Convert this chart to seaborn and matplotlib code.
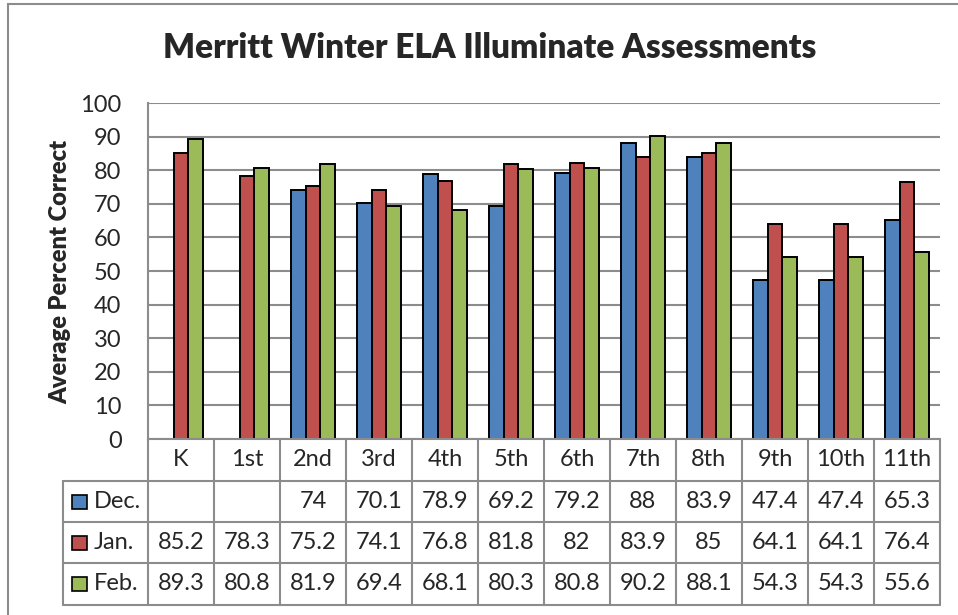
import numpy as np
import pandas as pd
import matplotlib
matplotlib.use("Agg")
import matplotlib.pyplot as plt
from matplotlib.patches import Rectangle
from matplotlib.lines import Line2D
import seaborn as sns

grades = ["K", "1st", "2nd", "3rd", "4th", "5th", "6th", "7th", "8th", "9th", "10th", "11th"]
series_names = ["Dec.", "Jan.", "Feb."]
dec = [np.nan, np.nan, 74, 70.1, 78.9, 69.2, 79.2, 88, 83.9, 47.4, 47.4, 65.3]
jan = [85.2, 78.3, 75.2, 74.1, 76.8, 81.8, 82, 83.9, 85, 64.1, 64.1, 76.4]
feb = [89.3, 80.8, 81.9, 69.4, 68.1, 80.3, 80.8, 90.2, 88.1, 54.3, 54.3, 55.6]
colors = ["#4F81BD", "#C0504D", "#9BBB59"]
title = "Merritt Winter ELA Illuminate Assessments"
ylabel = "Average Percent Correct"

sns.set_style("white")
plt.rcParams["font.family"] = ["Lato", "DejaVu Sans"]

W, H = 958, 615
fig = plt.figure(figsize=(W / 100, H / 100), dpi=100)

def fx(px):
    return px / W

def fy(py):
    return 1 - py / H

L, R, T, B = 148, 940, 103, 439
ax = fig.add_axes([fx(L), fy(B), fx(R - L), (B - T) / H])

df = pd.DataFrame({
    "grade": grades * 3,
    "month": sum([[s] * len(grades) for s in series_names], []),
    "value": dec + jan + feb,
})
sns.barplot(data=df, x="grade", y="value", hue="month", order=grades,
            hue_order=series_names, palette=colors, width=0.68,
            edgecolor="black", linewidth=1.4, saturation=1, ax=ax,
            legend=False, zorder=3)

FS = 17
ax.set_ylim(0, 100)
ax.set_xlim(-0.5, len(grades) - 0.5)
ax.set_yticks(range(0, 101, 10))
ax.tick_params(axis="y", labelsize=FS, length=0, pad=19)
ax.set_xticks([])
ax.set_xlabel("")
ax.set_ylabel("")
ax.yaxis.grid(True, color="#8C8C8C", linewidth=1.5, zorder=0)
ax.set_axisbelow(True)
for s in ["top", "right", "bottom"]:
    ax.spines[s].set_visible(False)
ax.spines["left"].set_color("#8C8C8C")
ax.spines["left"].set_linewidth(1.5)

fig.text(fx(490), fy(48), title, ha="center", va="center",
         fontsize=24, fontweight="heavy")
fig.text(fx(60), fy(272), ylabel, ha="center", va="center",
         rotation=90, fontsize=17, fontweight="heavy")

# Data table
gc = "#8C8C8C"
rows_y = [439, 481, 522, 563, 605]
col_w = (R - L) / len(grades)
col_x = [L + i * col_w for i in range(len(grades) + 1)]
TL = 63
lw = 1.5
fig.add_artist(Line2D([fx(L), fx(R)], [fy(rows_y[0])] * 2, color=gc, lw=lw))
for y in rows_y[1:]:
    fig.add_artist(Line2D([fx(TL), fx(R)], [fy(y)] * 2, color=gc, lw=lw))
for x in col_x:
    fig.add_artist(Line2D([fx(x)] * 2, [fy(rows_y[0]), fy(rows_y[-1])], color=gc, lw=lw))
fig.add_artist(Line2D([fx(TL)] * 2, [fy(rows_y[1]), fy(rows_y[-1])], color=gc, lw=lw))

for i, g in enumerate(grades):
    fig.text(fx(col_x[i] + col_w / 2), fy((rows_y[0] + rows_y[1]) / 2), g,
             ha="center", va="center", fontsize=FS)

all_vals = [dec, jan, feb]
for r, (name, vals, c) in enumerate(zip(series_names, all_vals, colors)):
    ymid = (rows_y[r + 1] + rows_y[r + 2]) / 2
    fig.add_artist(Rectangle((fx(TL + 9), fy(ymid + 7)), fx(15), 14 / H,
                             facecolor=c, edgecolor="black", lw=1.2))
    fig.text(fx(TL + 31), fy(ymid), name, ha="left", va="center", fontsize=FS)
    for i, v in enumerate(vals):
        if not np.isnan(v):
            txt = f"{v:g}"
            fig.text(fx(col_x[i] + col_w / 2), fy(ymid), txt,
                     ha="center", va="center", fontsize=FS)

fig.add_artist(Rectangle((fx(8), fy(H + 5)), fx(W), (H + 5 - 4) / H,
                         facecolor="none", edgecolor="#8C8C8C", lw=1.5))

fig.savefig("out.png", dpi=100)
